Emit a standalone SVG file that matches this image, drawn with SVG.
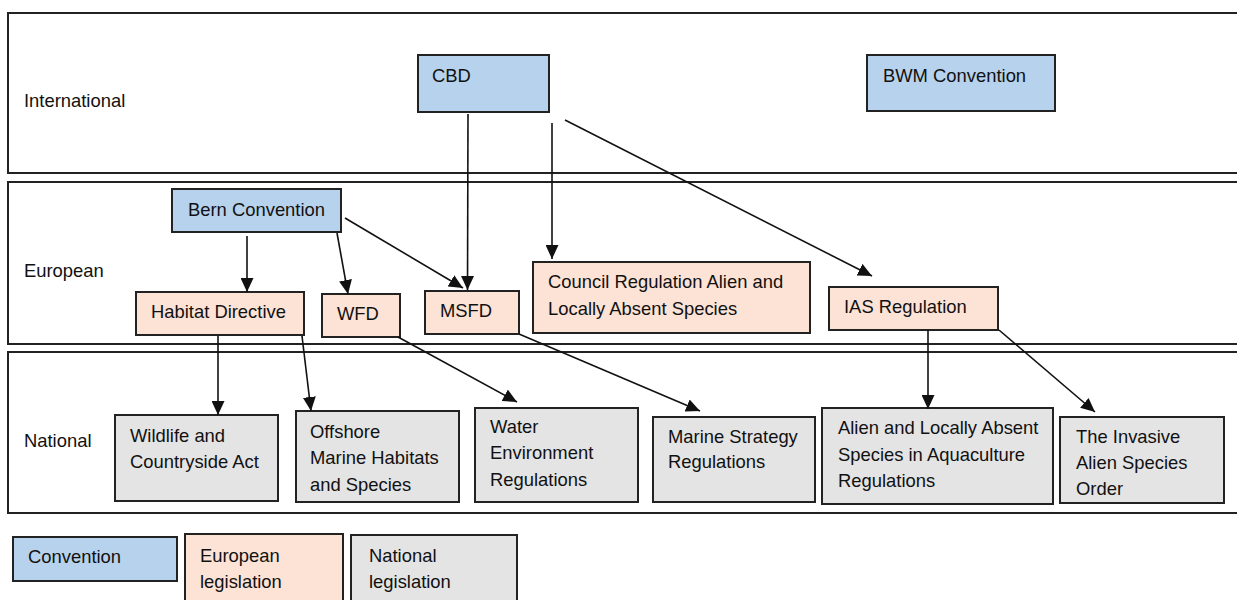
<svg xmlns="http://www.w3.org/2000/svg" width="1237" height="600" viewBox="0 0 1237 600">
  <style>
    text { font-family: "Liberation Sans", Arial, sans-serif; font-size: 18.4px; fill: #111; }
    .panel { fill: #fff; stroke: #222; stroke-width: 2; }
    .conv { fill: #b7d2ec; stroke: #222; stroke-width: 2; }
    .eu { fill: #fce3d6; stroke: #222; stroke-width: 2; }
    .nat { fill: #e4e4e4; stroke: #222; stroke-width: 2; }
    .edge { fill: none; stroke: #111; stroke-width: 1.6; marker-end: url(#arrow); }
  </style>
  <defs>
    <marker id="arrow" markerUnits="userSpaceOnUse" markerWidth="14" markerHeight="13" refX="14" refY="6.5" orient="auto">
      <path d="M0,0 L14,6.5 L0,13 z" fill="#111"/>
    </marker>
  </defs>
  <rect width="1237" height="600" fill="#fff"/>

  <g id="panels">
    <g id="panel-international">
      <rect class="panel" x="8" y="13" width="1240" height="160"/>
      <text x="24" y="107">International</text>
    </g>
    <g id="panel-european">
      <rect class="panel" x="8" y="182" width="1240" height="162"/>
      <text x="24" y="277">European</text>
    </g>
    <g id="panel-national">
      <rect class="panel" x="8" y="352" width="1240" height="161"/>
      <text x="24" y="447">National</text>
    </g>
  </g>

  <g id="cbd">
    <rect class="conv" x="418" y="55" width="131" height="57"/>
    <text x="432" y="82">CBD</text>
  </g>
  <g id="bwm">
    <rect class="conv" x="867" y="55" width="188" height="56"/>
    <text x="883" y="82">BWM Convention</text>
  </g>
  <g id="bern">
    <rect class="conv" x="172" y="189" width="169" height="43"/>
    <text x="188" y="216">Bern Convention</text>
  </g>
  <g id="habitat">
    <rect class="eu" x="136" y="292" width="168" height="43"/>
    <text x="151" y="318">Habitat Directive</text>
  </g>
  <g id="wfd">
    <rect class="eu" x="322" y="294" width="78" height="43"/>
    <text x="337" y="320">WFD</text>
  </g>
  <g id="msfd">
    <rect class="eu" x="425" y="291" width="94" height="43"/>
    <text x="440" y="317">MSFD</text>
  </g>
  <g id="council">
    <rect class="eu" x="533" y="262" width="277" height="71"/>
    <text x="548" y="288">Council Regulation Alien and</text>
    <text x="548" y="315">Locally Absent Species</text>
  </g>
  <g id="ias">
    <rect class="eu" x="829" y="287" width="169" height="43"/>
    <text x="844" y="313">IAS Regulation</text>
  </g>
  <g id="wildlife">
    <rect class="nat" x="115" y="415" width="163" height="86"/>
    <text x="130" y="442">Wildlife and</text>
    <text x="130" y="468">Countryside Act</text>
  </g>
  <g id="offshore">
    <rect class="nat" x="296" y="411" width="163" height="91"/>
    <text x="310" y="438">Offshore</text>
    <text x="310" y="464">Marine Habitats</text>
    <text x="310" y="491">and Species</text>
  </g>
  <g id="water">
    <rect class="nat" x="475" y="408" width="163" height="94"/>
    <text x="490" y="433">Water</text>
    <text x="490" y="459">Environment</text>
    <text x="490" y="486">Regulations</text>
  </g>
  <g id="marine-strategy">
    <rect class="nat" x="653" y="417" width="162" height="85"/>
    <text x="668" y="443">Marine Strategy</text>
    <text x="668" y="468">Regulations</text>
  </g>
  <g id="alien-aquaculture">
    <rect class="nat" x="822" y="408" width="231" height="96"/>
    <text x="838" y="434">Alien and Locally Absent</text>
    <text x="838" y="461">Species in Aquaculture</text>
    <text x="838" y="487">Regulations</text>
  </g>
  <g id="invasive-order">
    <rect class="nat" x="1060" y="417" width="164" height="86"/>
    <text x="1076" y="443">The Invasive</text>
    <text x="1076" y="469">Alien Species</text>
    <text x="1076" y="495">Order</text>
  </g>

  <g id="legend">
    <g id="legend-convention">
      <rect class="conv" x="13" y="537" width="164" height="44"/>
      <text x="28" y="563">Convention</text>
    </g>
    <g id="legend-european">
      <rect class="eu" x="185" y="534" width="158" height="80"/>
      <text x="200" y="562">European</text>
      <text x="200" y="588">legislation</text>
    </g>
    <g id="legend-national">
      <rect class="nat" x="351" y="535" width="166" height="80"/>
      <text x="369" y="562">National</text>
      <text x="369" y="588">legislation</text>
    </g>
  </g>

  <g id="connectors">
    <path class="edge" d="M468,114 L467.5,290"/>
    <path class="edge" d="M552,123 L552,259"/>
    <path class="edge" d="M565,120 L872,276"/>
    <path class="edge" d="M247,236 L247,292"/>
    <path class="edge" d="M337,233 L348,294"/>
    <path class="edge" d="M345,218 L463,288"/>
    <path class="edge" d="M218,336 L218,415"/>
    <path class="edge" d="M302,336 L311,411"/>
    <path class="edge" d="M398,337 L517,402"/>
    <path class="edge" d="M519,334 L700,411"/>
    <path class="edge" d="M928,330 L928,409"/>
    <path class="edge" d="M999,330 L1095,412"/>
  </g>
</svg>
